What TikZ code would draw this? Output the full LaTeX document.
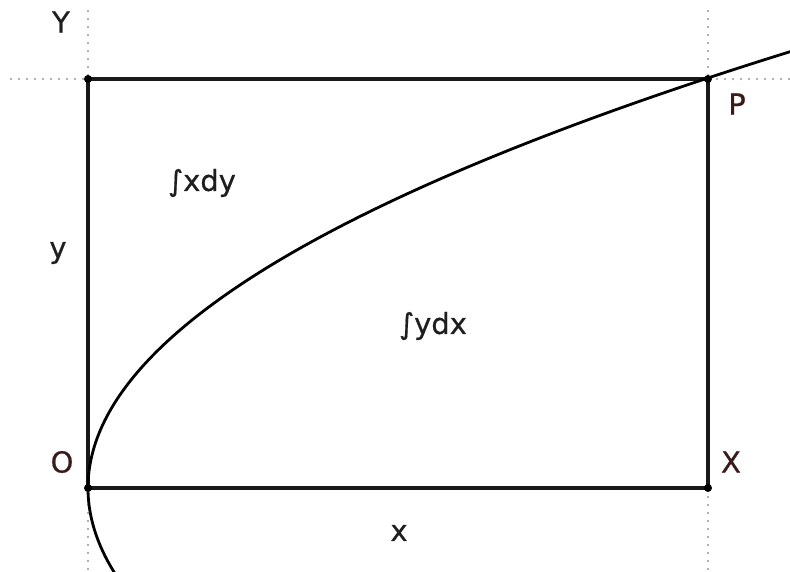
\documentclass[tikz,border=0pt]{standalone}
\usepackage{fontspec}
\setmainfont{DejaVu Sans}
\newfontfamily\lblfont{DejaVu Sans}[FakeBold=0.6]
\definecolor{lblink}{HTML}{1E1E1E}
\definecolor{ptink}{HTML}{3A1A1A}
\begin{document}
\begin{tikzpicture}[x=1pt,y=-1pt,
  lbl/.style={text=lblink, font=\lblfont\fontsize{29}{32}\selectfont, inner sep=0pt},
  ptlbl/.style={lbl, text=ptink},
  guide/.style={draw=black!30, line width=2pt, dash pattern=on 2pt off 6pt},
  edge/.style={draw=black!90, line width=3.4pt},
  crv/.style={draw=black, line width=2.8pt},
  dotc/.style={circle, fill=black, inner sep=0pt, minimum size=8pt}]
\useasboundingbox (0,0) rectangle (790,572);
\coordinate (O) at (88,488);
\coordinate (X) at (708,488);
\coordinate (P) at (708,79);
\coordinate (C) at (88,79);
\coordinate (ct) at (88,10);
\coordinate (cl) at (10,79);
\coordinate (pt) at (708,10);
\coordinate (pr) at (790,79);
\coordinate (ob) at (88,572);
\coordinate (xb) at (708,572);
% guides
\draw[guide] (ct) -- (C);
\draw[guide] (cl) -- (C);
\draw[guide] (pt) -- (P);
\draw[guide] (P) -- (pr);
\draw[guide] (O) -- (ob);
\draw[guide] (X) -- (xb);
% rectangle
\draw[edge] (O) -- (X) -- (P) -- (C) -- cycle;
% curve
\draw[crv] plot[domain=-86:440, samples=220, smooth] ({88+(0.060732*\x)^2}, {488-\x});
% corner dots
\node[dotc] at (O) {};
\node[dotc] at (X) {};
\node[dotc] at (P) {};
\node[dotc] at (C) {};
% labels
\node[lbl] (lY) at (61,22) {Y};
\node[ptlbl] (lP) at (737,104) {P};
\node[ptlbl] (lO) at (62,462) {O};
\node[ptlbl] (lX) at (731,462) {X};
\node[lbl] (ly) at (58,253) {y};
\node[lbl] (lx) at (399,533) {x};
\node[lbl] (lxdy) at (202,183) {∫xdy};
\node[lbl] (lydx) at (433,326) {∫ydx};
\end{tikzpicture}
\end{document}
